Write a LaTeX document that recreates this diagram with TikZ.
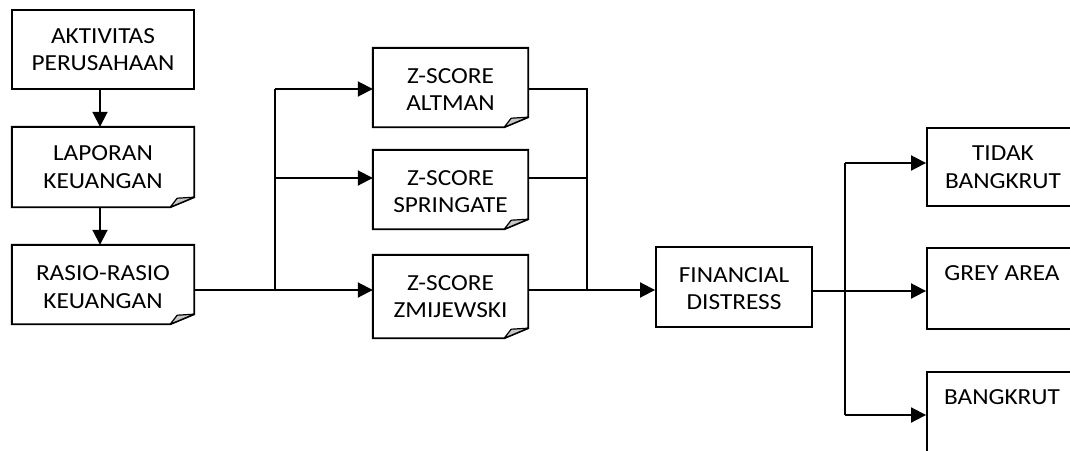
\documentclass[tikz,border=0pt]{standalone}
\usepackage{fontspec}
\setmainfont{Carlito}[FakeStretch=1.1]
\usetikzlibrary{arrows.meta}

\tikzset{
  boxtext/.style={align=center, inner sep=0pt, font=\fontsize{23}{27.5}\selectfont},
  plainbox/.style={draw, line width=1.9pt, rectangle, inner sep=0pt},
  conn/.style={line width=1.9pt},
  thinconn/.style={line width=1.2pt},
  arr/.style={conn, -{Triangle[length=15pt,width=15pt]}},
  flap/.style={fill=black!22, draw, line width=1.2pt, line join=round}
}

% box with a folded bottom-right corner, drawn around the node #1
\newcommand{\foldedbox}[1]{%
  \draw[line width=1.9pt, line join=miter]
    (#1.north west) -- (#1.north east) -- ([yshift=10pt]#1.south east)
    -- ([xshift=-24pt]#1.south east) -- (#1.south west) -- cycle;
  \draw[flap] ([yshift=10pt]#1.south east) -- ([xshift=-17pt,yshift=9pt]#1.south east)
    -- ([xshift=-24pt]#1.south east) -- cycle;
}

\begin{document}
\begin{tikzpicture}[x=1pt,y=-1pt]
  \useasboundingbox (0,0) rectangle (1070,450);
  \clip (0,0) rectangle (1070,450);

  % left column
  \node[plainbox, minimum width=182pt, minimum height=79pt] (akt) at (103,49.5) {};
  \node[boxtext] (aktT) at (103,49.5) {AKTIVITAS\\PERUSAHAAN};
  \node[minimum width=182pt, minimum height=80pt, inner sep=0pt] (lap) at (103,167) {};
  \node[boxtext] (lapT) at (103,167) {LAPORAN\\KEUANGAN};
  \node[minimum width=182pt, minimum height=79pt, inner sep=0pt] (ras) at (103,284.5) {};
  \node[boxtext] (rasT) at (103,287) {RASIO-RASIO\\KEUANGAN};

  % the three scoring models
  \node[minimum width=155pt, minimum height=79pt, inner sep=0pt] (alt) at (450.5,87.5) {};
  \node[boxtext] (altT) at (450.5,89.5) {Z-SCORE\\ALTMAN};
  \node[minimum width=155pt, minimum height=79pt, inner sep=0pt] (spr) at (450.5,189.5) {};
  \node[boxtext] (sprT) at (450.5,191.5) {Z-SCORE\\SPRINGATE};
  \node[minimum width=155pt, minimum height=83pt, inner sep=0pt] (zmi) at (450.5,296.5) {};
  \node[boxtext] (zmiT) at (450.5,296.5) {Z-SCORE\\ZMIJEWSKI};

  \foldedbox{lap}
  \foldedbox{ras}
  \foldedbox{alt}
  \foldedbox{spr}
  \foldedbox{zmi}

  % outcome
  \node[plainbox, minimum width=156pt, minimum height=80pt] (fin) at (734,287) {};
  \node[boxtext] (finT) at (734,288.5) {FINANCIAL\\DISTRESS};

  % classifications
  \node[plainbox, minimum width=152pt, minimum height=78pt] (tid) at (1003,167) {};
  \node[boxtext] (tidT) at (1003,167) {TIDAK\\BANGKRUT};
  \node[plainbox, minimum width=152pt, minimum height=81pt] (gre) at (1003,288.5) {};
  \node[boxtext] (greT) at (1002,273.5) {GREY AREA};
  \node[plainbox, minimum width=152pt, minimum height=90pt] (ban) at (1003,417) {};
  \node[boxtext] (banT) at (1002,397.5) {BANGKRUT};

  % junction points
  \coordinate (j1) at (275,290);
  \coordinate (j2) at (587,290);
  \coordinate (j3) at (845,291);

  % connectors
  \draw[arr] ([xshift=-3pt]akt.south) -- ([xshift=-3pt]lap.north);
  \draw[arr] ([xshift=-3pt]lap.south) -- ([xshift=-3pt]ras.north);

  \draw[conn] (ras.east |- j1) -- (j1);
  \draw[conn] (j1) -- (j1 |- 0,89);
  \draw[arr] (j1 |- 0,89) -- (alt.west |- 0,89);
  \draw[arr] (j1 |- 0,178) -- (spr.west |- 0,178);
  \draw[arr] (j1) -- (zmi.west |- j1);

  \draw[thinconn] (alt.east |- 0,89) -- (j2 |- 0,89) -- (j2);
  \draw[thinconn] (spr.east |- 0,178) -- (j2 |- 0,178);
  \draw[conn] (zmi.east |- j2) -- (j2);
  \draw[arr] (j2) -- (fin.west |- j2);

  \draw[conn] (fin.east |- j3) -- (j3);
  \draw[conn] (j3 |- 0,163) -- (j3 |- 0,415);
  \draw[arr] (j3 |- 0,163) -- (tid.west |- 0,163);
  \draw[arr] (j3) -- (gre.west |- j3);
  \draw[arr] (j3 |- 0,415) -- (ban.west |- 0,415);
\end{tikzpicture}
\end{document}
